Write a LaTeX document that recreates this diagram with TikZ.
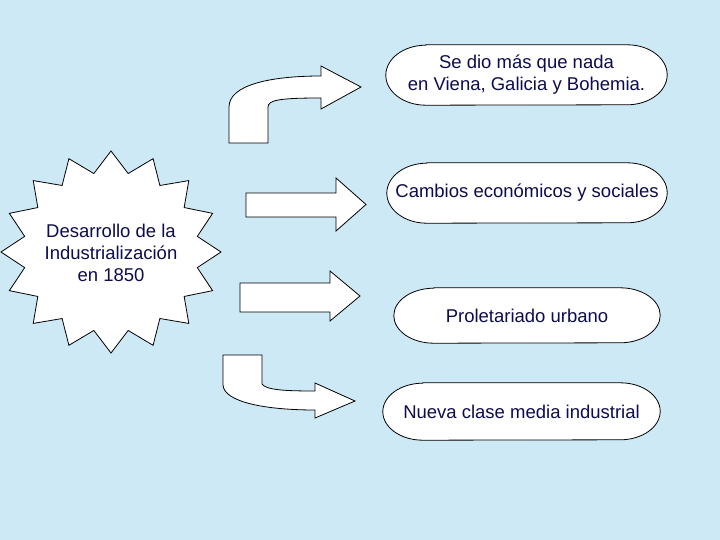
\documentclass[tikz,border=0pt]{standalone}
\usepackage{fontspec}
\setmainfont{Liberation Sans}
\definecolor{bgblue}{RGB}{204,233,245}
\definecolor{txtnavy}{RGB}{12,12,78}
\pgfdeclarelayer{bglayer}
\pgfdeclarelayer{shapelayer}
\pgfsetlayers{bglayer,shapelayer,main}
\tikzset{
  outl/.style={draw=black, fill=white, line width=0.8pt, line join=miter},
  txt/.style={text=txtnavy, font=\fontsize{18.5}{22}\selectfont, align=center, inner sep=0pt},
  stadbox/.style={txt, draw=none},
}
\newcommand{\mystad}[2]{%
  \draw[outl] ([xshift=40pt]#1.north west) -- ([xshift=-40pt]#1.north east)
    arc[start angle=90,end angle=-90,x radius=40pt,y radius=#2]
    -- ([xshift=40pt]#1.south west)
    arc[start angle=270,end angle=90,x radius=40pt,y radius=#2] -- cycle;}
\begin{document}
\begin{tikzpicture}[x=1pt,y=-1pt]
\begin{pgfonlayer}{bglayer}
  \fill[bgblue] (0,0) rectangle (720,540);
\end{pgfonlayer}
\useasboundingbox (0,0) rectangle (720,540);

% star
\draw[outl, shift={(111,252)}] (90:110pt and 101pt)
  \foreach \k in {0,...,15} { -- ({90+22.5*\k+11.25}:88pt and 80pt) -- ({90+22.5*\k+22.5}:110pt and 101pt) } -- cycle;
\node[txt] (star) at (111,253) {Desarrollo de la\\Industrialización\\en 1850};

% arrows
\draw[outl] (229,143) -- (268,143) -- (268,107) .. controls (268,100) and (280,98) .. (321,98)
  -- (321,109) -- (361,87) -- (321,66) -- (321,76) .. controls (270,76) and (229,85) .. (229,107) -- cycle;
\draw[outl] (246,193) -- (336,193) -- (336,178) -- (366,204.5) -- (336,231) -- (336,217) -- (246,217) -- cycle;
\draw[outl] (240,283) -- (330,283) -- (330,271) -- (360,296) -- (330,321) -- (330,312) -- (240,312) -- cycle;
\draw[outl] (223,355) -- (262,355) -- (262,384) .. controls (266,390) and (285,391) .. (315,391)
  -- (315,383) -- (355,401) -- (315,418) -- (315,410) .. controls (265,410) and (224,402) .. (223,385) -- cycle;

% boxes
\node[stadbox, minimum width=281pt, minimum height=60pt] (b1) at (526.5,75) {Se dio más que nada\\en Viena, Galicia y Bohemia.};
\node[stadbox, minimum width=280pt, minimum height=60pt] (b2) at (527,193) {Cambios económicos y sociales};
\node[stadbox, minimum width=266pt, minimum height=55pt] (b3) at (527,315.5) {Proletariado urbano};
\node[stadbox, minimum width=277pt, minimum height=57pt] (b4) at (521.5,411.5) {Nueva clase media industrial};
\begin{pgfonlayer}{shapelayer}
  \mystad{b1}{30pt}
  \mystad{b2}{30pt}
  \mystad{b3}{27.5pt}
  \mystad{b4}{28.5pt}
\end{pgfonlayer}
\end{tikzpicture}
\end{document}
